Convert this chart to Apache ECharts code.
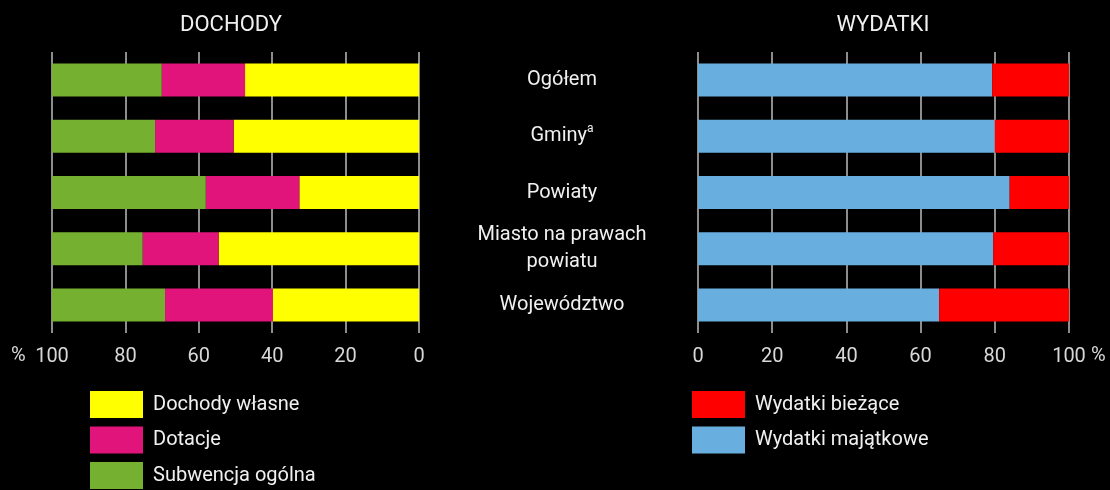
<!DOCTYPE html>
<html>
<head>
<meta charset="utf-8">
<script src="https://cdn.jsdelivr.net/npm/echarts@6/dist/echarts.min.js"></script>
<style>
  html, body { margin: 0; padding: 0; background: #000; }
  #chart { width: 1110px; height: 490px; }
</style>
</head>
<body>
<div id="chart"></div>
<script>
// kategorie (od góry)
var categories = ['Ogółem', 'Gminy', 'Powiaty', 'Miasto na prawach\npowiatu', 'Województwo'];
var xTicks = [0, 20, 40, 60, 80, 100];

// DOCHODY (%)
var dochodyWlasne = [47.4, 50.5, 32.6, 54.6, 39.8];
var dotacje       = [22.7, 21.4, 25.5, 20.7, 29.4];
var subwencja     = [29.9, 28.1, 41.9, 24.7, 30.8];

// WYDATKI (%)
var wydatkiMajatkowe = [79.3, 80.0, 84.0, 79.6, 65.0];
var wydatkiBiezace   = [20.7, 20.0, 16.0, 20.4, 35.0];

var FONT = 'Roboto, "Noto Sans", sans-serif';
var TXT = '#f0f0f0';

var chart = echarts.init(document.getElementById('chart'));

function xAxis(grid, inverse) {
  return {
    type: 'value', gridIndex: grid, inverse: inverse,
    min: xTicks[0], max: xTicks[xTicks.length - 1], interval: 20,
    axisLine: { show: false },
    axisTick: { show: false },
    splitLine: { show: true, lineStyle: { color: '#bdbdbd', width: 1.5 } },
    axisLabel: { color: '#d8d8d8', fontSize: 20, fontFamily: FONT, margin: 14 }
  };
}

function bar(name, data, color, xi, yi) {
  return {
    name: name, type: 'bar', stack: 's' + xi, xAxisIndex: xi, yAxisIndex: yi,
    data: data, barWidth: 33,
    itemStyle: { color: color },
    emphasis: { disabled: true }
  };
}

function legend(left, names) {
  return {
    left: left, top: 391, orient: 'vertical', padding: 0,
    itemWidth: 53, itemHeight: 27, itemGap: 8.5,
    icon: 'rect', data: names,
    textStyle: { color: TXT, fontSize: 20, fontFamily: FONT, padding: [0, 0, 0, 5] }
  };
}

chart.setOption({
  backgroundColor: '#000',
  animation: false,
  textStyle: { fontFamily: FONT },
  title: [
    { text: 'DOCHODY', left: 226, top: 9, textAlign: 'center',
      textStyle: { color: TXT, fontSize: 22, fontWeight: 'normal', fontFamily: FONT } },
    { text: 'WYDATKI', left: 878, top: 9, textAlign: 'center',
      textStyle: { color: TXT, fontSize: 22, fontWeight: 'normal', fontFamily: FONT } }
  ],
  grid: [
    { left: 52, right: 691, top: 52, bottom: 157 },
    { left: 698, right: 41, top: 52, bottom: 157 }
  ],
  xAxis: [xAxis(0, true), xAxis(1, false)],
  yAxis: [
    { type: 'category', gridIndex: 0, inverse: true, data: categories,
      axisLine: { show: false }, axisTick: { show: false }, axisLabel: { show: false } },
    { type: 'category', gridIndex: 1, inverse: true, data: categories,
      axisLine: { show: false }, axisTick: { show: false },
      axisLabel: {
        color: TXT, fontSize: 20, fontFamily: FONT, margin: 136, align: 'center', lineHeight: 27,
        formatter: function (v) { return v === 'Gminy' ? 'Gminy{sup|a}' : v; },
        rich: { sup: { fontSize: 12, verticalAlign: 'top', color: TXT, padding: [0, 0, 10, 0] } }
      } }
  ],
  legend: [
    legend(90, ['Dochody własne', 'Dotacje', 'Subwencja ogólna']),
    legend(692, ['Wydatki bieżące', 'Wydatki majątkowe'])
  ],
  graphic: [
    { type: 'text', left: 11, top: 346, style: { text: '%', fill: '#d8d8d8', font: '20px ' + FONT } },
    { type: 'text', left: 1091, top: 346, style: { text: '%', fill: '#d8d8d8', font: '20px ' + FONT } }
  ],
  series: [
    bar('Dochody własne', dochodyWlasne, '#ffff00', 0, 0),
    bar('Dotacje', dotacje, '#e0147a', 0, 0),
    bar('Subwencja ogólna', subwencja, '#76b030', 0, 0),
    bar('Wydatki majątkowe', wydatkiMajatkowe, '#68afdf', 1, 1),
    bar('Wydatki bieżące', wydatkiBiezace, '#ff0000', 1, 1)
  ]
});
</script>
</body>
</html>
